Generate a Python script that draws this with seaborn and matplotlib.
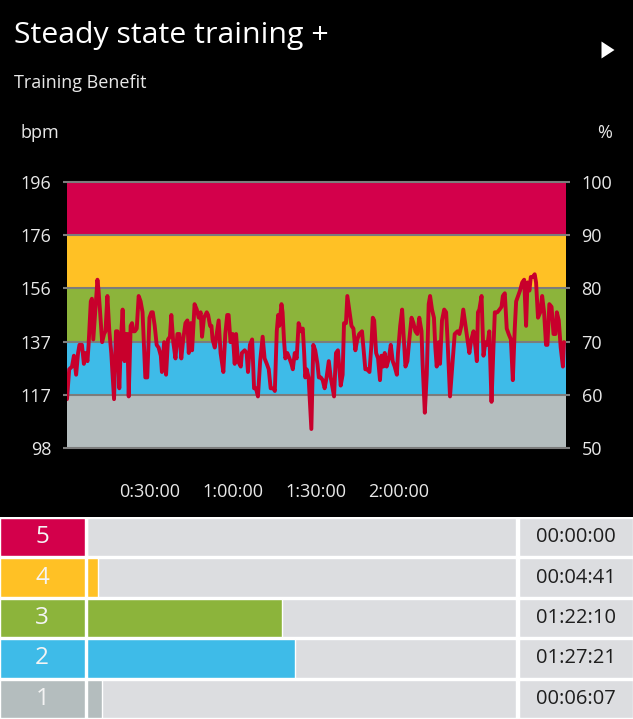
import matplotlib
matplotlib.use("Agg")
import matplotlib.pyplot as plt
import seaborn as sns
import pandas as pd
from matplotlib.patches import Polygon, Rectangle

# ---------------- data ----------------
TITLE = "Steady state training +"
SUBTITLE = "Training Benefit"
LEFT_UNIT = "bpm"
RIGHT_UNIT = "%"
MAX_HR = 196

pct_ticks = [50, 60, 70, 80, 90, 100]
bpm_tick_labels = ["98", "117", "137", "156", "176", "196"]
pct_tick_labels = ["50", "60", "70", "80", "90", "100"]

time_ticks_min = [30, 60, 90, 120]
time_tick_labels = ["0:30:00", "1:00:00", "1:30:00", "2:00:00"]

# zone colours, zone 1 .. zone 5
zone_colors = ["#B4BDBE", "#3EBBE8", "#8CB43B", "#FFC125", "#D3004B"]

minutes = [
    0, 0.8, 1.8, 2.5, 3.3, 4.0, 4.5, 5.4, 6.1, 6.6, 7.4, 7.8, 8.6, 9.0, 9.5,
    10.2, 11.0, 11.4, 11.9, 12.7, 13.4, 13.9, 14.6, 15.3, 16.0, 17.0, 17.7, 18.2, 18.9, 19.6,
    20.1, 20.8, 21.3, 21.8, 22.3, 23.0, 23.5, 24.0, 24.5, 25.2, 25.9, 26.6, 27.3, 28.3, 29.0,
    29.8, 30.5, 31.0, 31.7, 32.4, 33.1, 33.9, 34.3, 35.1, 35.8, 36.5, 37.2, 37.7, 38.4, 39.2,
    39.9, 40.6, 41.3, 42.0, 42.8, 43.5, 44.0,
    44.7, 45.2, 46.1, 46.9, 47.6, 48.3, 48.8, 49.5, 50.5, 51.0, 51.7, 52.2, 52.6, 53.4, 54.1,
    54.8, 55.5, 56.5, 57.2, 57.9, 58.4, 59.1, 59.9, 60.6, 61.1, 61.8, 62.8, 63.2, 64.2, 64.9,
    65.4, 66.1, 66.9, 67.6, 68.3, 69.0, 69.8, 70.7, 71.4, 72.2, 72.9, 73.6, 74.6, 75.1, 75.8,
    76.3, 76.7, 77.5, 77.9, 78.4, 78.9, 79.6, 80.4, 81.1, 81.6, 82.3, 83.0, 83.7, 84.5, 85.2,
    85.7, 86.1, 86.6, 87.3,
    88.3, 89.0, 89.7, 90.5, 91.0, 91.7, 92.4, 93.1, 93.8, 94.6, 95.3, 96.5, 97.2, 97.9, 98.9,
    99.6, 100.1, 100.8, 101.3, 102.0, 102.8, 103.5, 104.2, 104.9, 105.6, 106.6, 107.3, 107.8, 108.5, 109.3,
    110.0, 110.5, 111.0, 111.7, 112.4, 113.1, 113.6, 114.3, 114.8, 115.5, 116.3, 117.0, 117.7, 118.4, 119.2,
    119.6, 120.4, 121.1, 121.6, 122.3, 123.0, 123.7, 124.5, 125.2, 125.9, 126.6, 127.3, 128.1, 128.5, 129.3,
    130.0, 130.7, 131.2, 131.9,
    132.6, 133.1, 133.6, 134.3, 134.8, 135.5, 136.3, 137.0, 137.5, 138.4, 139.2, 140.1, 141.1, 141.8, 142.5,
    143.2, 144.0, 144.7, 145.4, 146.1, 146.9, 147.6, 148.1, 148.5, 149.0, 149.8, 150.5, 151.2, 151.9, 152.6,
    153.4, 154.1, 154.6, 155.5, 156.3, 157.0, 157.5, 158.2, 158.9, 159.6, 160.4, 161.1, 161.8, 162.3, 163.0,
    163.7, 164.5, 165.2, 165.9, 166.4, 167.1, 167.6, 168.3, 169.0, 169.5, 170.2, 171.0, 171.7, 172.4, 173.1,
    173.6, 174.3, 175.1, 175.8, 176.5, 177.0, 177.7, 178.4, 179.2, 179.6,
]

heart_rate = [
    116, 127, 128, 132, 125, 133, 136, 136, 129, 133, 130, 136, 152, 153, 138,
    148, 160, 156, 149, 137, 140, 141, 154, 141, 133, 116, 141, 141, 120, 140,
    149, 130, 140, 140, 117, 143, 144, 141, 141, 142, 154, 152, 148, 124, 124,
    146, 148, 148, 143, 136, 135, 132, 126, 137, 125, 138, 139, 147, 137, 131,
    140, 140, 131, 138, 144, 145, 133,
    144, 134, 151, 149, 146, 148, 139, 146, 148, 147, 143, 143, 138, 135, 140,
    145, 133, 126, 140, 147, 147, 137, 140, 129, 140, 130, 128, 133, 134, 133,
    126, 136, 138, 120, 120, 117, 130, 139, 131, 129, 127, 120, 120, 119, 141,
    147, 143, 151, 148, 138, 131, 133, 131, 129, 127, 133, 131, 144, 141, 142,
    133, 124, 127, 124,
    105, 136, 134, 129, 124, 124, 123, 120, 124, 130, 124, 117, 133, 134, 121,
    125, 144, 144, 154, 149, 143, 142, 134, 138, 140, 141, 133, 127, 127, 126,
    136, 146, 145, 133, 131, 123, 132, 128, 133, 128, 131, 136, 130, 128, 125,
    133, 143, 149, 140, 128, 130, 138, 146, 144, 141, 140, 146, 141, 129, 111,
    125, 151, 154, 149,
    146, 135, 128, 137, 129, 145, 149, 148, 138, 117, 128, 140, 141, 140, 143,
    149, 143, 138, 133, 138, 141, 135, 130, 148, 149, 154, 132, 137, 136, 141,
    115, 135, 148, 148, 149, 150, 154, 155, 142, 140, 138, 123, 142, 152, 154,
    156, 159, 160, 143, 159, 156, 161, 161, 162, 159, 146, 148, 154, 148, 136,
    136, 151, 150, 140, 140, 148, 145, 135, 128, 137,
]

zones = ["5", "4", "3", "2", "1"]
zone_times = ["00:00:00", "00:04:41", "01:22:10", "01:27:21", "00:06:07"]

# ---------------- style ----------------
W, H = 633, 719
LINE = "#C8002C"
GRID = "#7C7C7C"
TEXT = "#E8E8E8"
BAR_BG = "#DCDDE0"

sns.set_theme(style="white")
plt.rcParams['font.family'] = ['Open Sans', 'DejaVu Sans']


def fx(px):
    return px / W


def fy(py):
    return 1 - py / H


def to_sec(s):
    h, m, sec = (int(v) for v in s.split(":"))
    return h * 3600 + m * 60 + sec


zone_secs = [to_sec(s) for s in zone_times]
total_sec = sum(zone_secs)
total_min = total_sec / 60

fig = plt.figure(figsize=(W / 100, H / 100), dpi=100, facecolor="white")
fig.add_artist(Rectangle((0, fy(517)), 1, 517 / H, transform=fig.transFigure,
                         facecolor="black", edgecolor="none", zorder=-5))

# ---------------- heart-rate chart ----------------
ax = fig.add_axes([fx(67), fy(448), fx(566) - fx(67), (448 - 182) / H])
ax.set_facecolor("black")
for lo, hi, c in zip(pct_ticks[:-1], pct_ticks[1:], zone_colors):
    ax.axhspan(MAX_HR * lo / 100, MAX_HR * hi / 100, color=c, lw=0, zorder=1)
for p in pct_ticks:
    ax.axhline(MAX_HR * p / 100, color=GRID, lw=1.5, zorder=1.5, clip_on=False)

sns.lineplot(x=minutes, y=heart_rate, ax=ax, color=LINE, lw=2.8,
             estimator=None, sort=False, zorder=3)

ax.set_xlim(0, total_min)
ax.set_ylim(MAX_HR * 0.5, MAX_HR)
ax.set_yticks([MAX_HR * p / 100 for p in pct_ticks])
ax.set_yticklabels(bpm_tick_labels)
ax.set_xticks(time_ticks_min)
ax.set_xticklabels(time_tick_labels)
ax.tick_params(axis="y", left=True, length=3.2, width=1.5, color=GRID, pad=8,
               labelsize=13, labelcolor=TEXT)
ax.tick_params(axis="x", bottom=True, length=0, pad=25, labelsize=13, labelcolor=TEXT)
ax.set_xlabel("")
ax.set_ylabel("")
for s in ax.spines.values():
    s.set_visible(False)

ax2 = ax.twinx()
ax2.set_ylim(50, 100)
ax2.set_yticks(pct_ticks)
ax2.set_yticklabels(pct_tick_labels)
ax2.tick_params(axis="y", right=True, length=3.2, width=1.5, color=GRID, pad=8,
                labelsize=13, labelcolor=TEXT)
for s in ax2.spines.values():
    s.set_visible(False)
ax2.grid(False)

fig.text(fx(14), fy(43), TITLE, color="white", fontsize=21.8, va="baseline", ha="left")
fig.text(fx(14), fy(88), SUBTITLE, color=TEXT, fontsize=13, va="baseline", ha="left")
fig.text(fx(21), fy(138), LEFT_UNIT, color=TEXT, fontsize=13, va="baseline", ha="left")
fig.text(fx(612), fy(138), RIGHT_UNIT, color=TEXT, fontsize=13, va="baseline", ha="right")
fig.add_artist(Polygon([(fx(601.5), fy(41.5)), (fx(601.5), fy(58.5)), (fx(614.5), fy(50))],
                       closed=True, transform=fig.transFigure, facecolor="white",
                       edgecolor="none"))

# ---------------- zone table ----------------
row_colors = dict(zip(["1", "2", "3", "4", "5"], zone_colors))
table = pd.DataFrame({"zone": zones, "seconds": [zone_secs[i] for i in range(5)],
                      "time": zone_times})
table["full_cell"] = 1.0
table["full_bar"] = float(total_sec)

tab_h = (719 - 517) / H

axL = fig.add_axes([0, 0, fx(84.5), tab_h])
sns.barplot(data=table, y="zone", x="full_cell", hue="zone", palette=row_colors,
            order=zones, hue_order=zones, legend=False, width=0.95, saturation=1,
            errorbar=None, ax=axL, orient="h")
axL.set_xlim(0, 1)
axL.set_ylim(4.5, -0.5)
for i, z in enumerate(zones):
    axL.text(0.5, i, z, ha="center", va="center", color="#F4F4F4", fontsize=17.5)
axL.set_axis_off()

axB = fig.add_axes([fx(87), 0, fx(516) - fx(87), tab_h])
sns.barplot(data=table, y="zone", x="full_bar", color=BAR_BG, order=zones,
            width=0.95, saturation=1, errorbar=None, ax=axB, orient="h")
sns.barplot(data=table, y="zone", x="seconds", hue="zone", palette=row_colors,
            order=zones, hue_order=zones, legend=False, width=0.95, saturation=1,
            errorbar=None, ax=axB, orient="h")
axB.set_xlim(0, total_sec)
axB.set_ylim(4.5, -0.5)
axB.set_axis_off()

axT = fig.add_axes([fx(518.5), 0, 1 - fx(518.5), tab_h])
sns.barplot(data=table, y="zone", x="full_cell", color=BAR_BG, order=zones,
            width=0.95, saturation=1, errorbar=None, ax=axT, orient="h")
axT.set_xlim(0, 1)
axT.set_ylim(4.5, -0.5)
for i, t in enumerate(zone_times):
    axT.text(0.5, i, t, ha="center", va="center", color="#1E1E1E", fontsize=14.5)
axT.set_axis_off()

fig.savefig("out.png", dpi=100, facecolor="white")
